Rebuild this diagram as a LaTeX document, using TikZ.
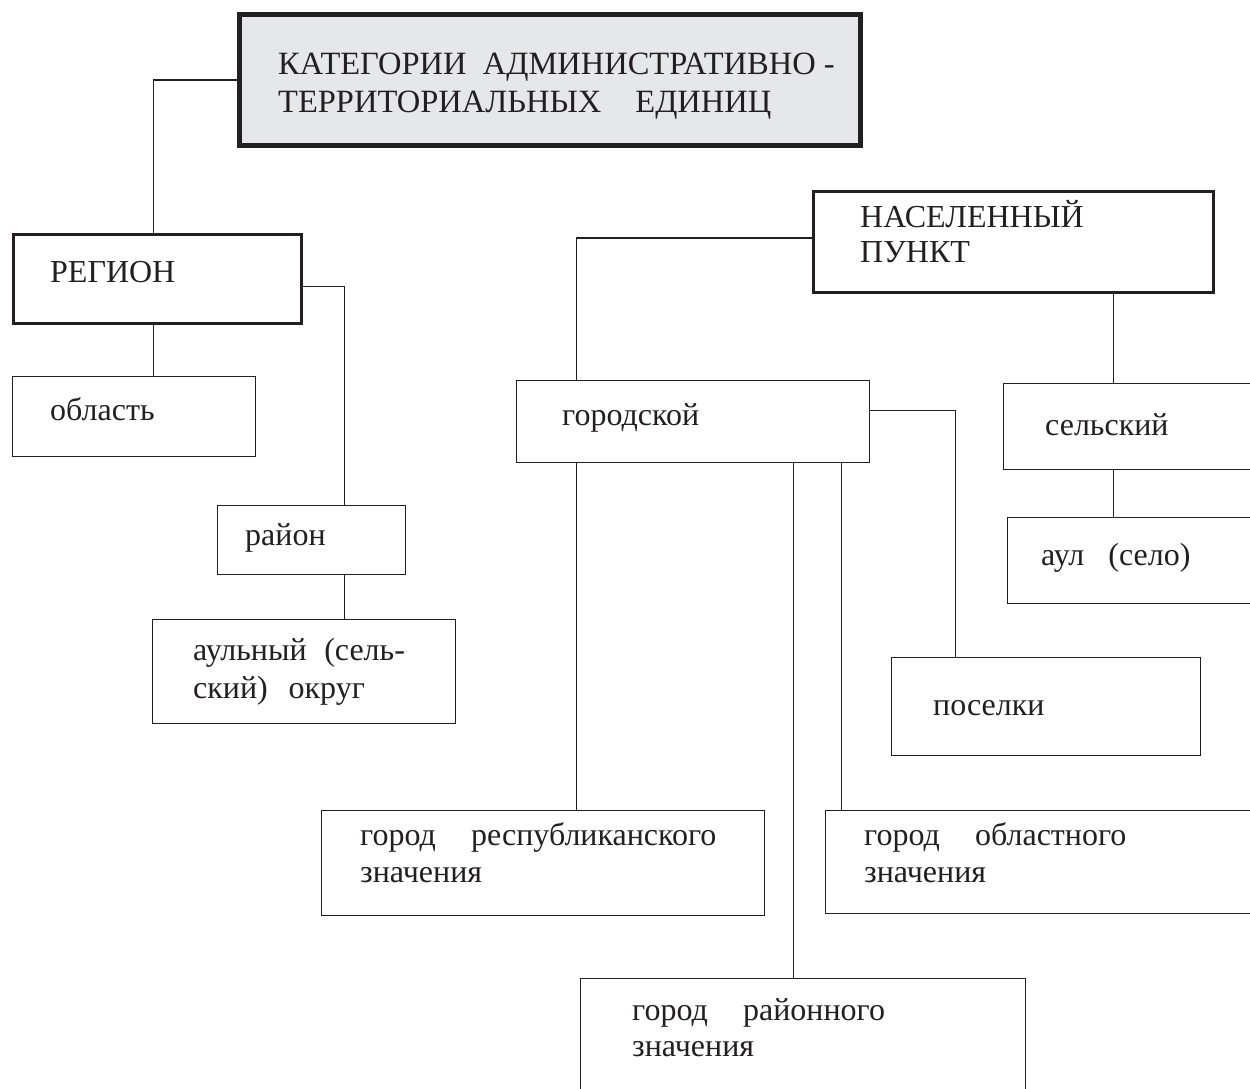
\documentclass[tikz,border=0pt]{standalone}
\usepackage{fontspec}
\setmainfont{Liberation Serif}
\newfontfamily\rufont{Liberation Serif}
\usetikzlibrary{calc}
\definecolor{ink}{HTML}{231F20}
\definecolor{boxfill}{HTML}{E6E7E8}
\begin{document}
\begin{tikzpicture}[x=1pt,y=-1pt,
  box/.style={draw=ink, line width=1.4pt, rectangle, anchor=north west, inner sep=0pt, fill=white},
  medbox/.style={box, line width=3pt},
  headbox/.style={box, line width=5pt, fill=boxfill},
  txt/.style={anchor=base west, inner sep=0pt, text=ink, align=left, font=\rufont\fontsize{32}{37}\selectfont},
  headtxt/.style={txt, font=\rufont\fontsize{32.5}{37}\selectfont},
  conn/.style={draw=ink, line width=1.4pt}]
\useasboundingbox (0,0) rectangle (1250,1088);
\clip (0,0) rectangle (1250,1088);
% boxes
\node[headbox, minimum width=621pt, minimum height=131pt] (top) at (237,12) {};
\node[medbox, minimum width=288pt, minimum height=89pt] (region) at (12,233) {};
\node[box, minimum width=243pt, minimum height=80pt] (oblast) at (12,376) {};
\node[box, minimum width=188pt, minimum height=69pt] (rayon) at (217,505) {};
\node[box, minimum width=303pt, minimum height=104pt] (okrug) at (152,619) {};
\node[medbox, minimum width=400pt, minimum height=101pt] (np) at (812,190) {};
\node[box, minimum width=353pt, minimum height=82pt] (gor) at (516,380) {};
\node[box, minimum width=300pt, minimum height=86pt] (sel) at (1003,383) {};
\node[box, minimum width=300pt, minimum height=86pt] (aul) at (1007,517) {};
\node[box, minimum width=309pt, minimum height=98pt] (pos) at (891,657) {};
\node[box, minimum width=443pt, minimum height=105pt] (resp) at (321,810) {};
\node[box, minimum width=445pt, minimum height=130pt] (rayg) at (580,978) {};
\node[box, minimum width=450pt, minimum height=103pt] (obl) at (825,810) {};
% texts
\node[headtxt] (ttop1) at ($(top.north west)+(41,62)$) {КАТЕГОРИИ\hspace{0.5em}АДМИНИСТРАТИВНО -};
\node[headtxt] (ttop2) at ($(top.north west)+(41,100)$) {ТЕРРИТОРИАЛЬНЫХ\hspace{1.05em}ЕДИНИЦ};
\node[txt] (tregion) at ($(region.north west)+(38,49)$) {РЕГИОН};
\node[txt] (toblast) at ($(oblast.north west)+(38,44)$) {область};
\node[txt] (trayon) at ($(rayon.north west)+(28,40)$) {район};
\node[txt] (tokrug1) at ($(okrug.north west)+(41,41)$) {аульный\hspace{0.3em} (сель-};
\node[txt] (tokrug2) at ($(okrug.north west)+(41,79)$) {ский)\hspace{0.4em} округ};
\node[txt] (tnp1) at ($(np.north west)+(48,37)$) {НАСЕЛЕННЫЙ};
\node[txt] (tnp2) at ($(np.north west)+(48,72)$) {ПУНКТ};
\node[txt] (tgor) at ($(gor.north west)+(46,45)$) {городской};
\node[txt] (tsel) at ($(sel.north west)+(42,52)$) {сельский};
\node[txt] (taul) at ($(aul.north west)+(34,48)$) {аул\hspace{0.5em} (село)};
\node[txt] (tpos) at ($(pos.north west)+(42,58)$) {поселки};
\node[txt] (tresp1) at ($(resp.north west)+(39,35)$) {город\hspace{0.85em} республиканского};
\node[txt] (tresp2) at ($(resp.north west)+(39,72)$) {значения};
\node[txt] (trayg1) at ($(rayg.north west)+(52,42)$) {город\hspace{0.85em} районного};
\node[txt] (trayg2) at ($(rayg.north west)+(52,78)$) {значения};
\node[txt] (tobl1) at ($(obl.north west)+(39,35)$) {город\hspace{0.85em} областного};
\node[txt] (tobl2) at ($(obl.north west)+(39,72)$) {значения};
% connectors
\draw[conn] (top.west) -| ([xshift=-4pt]region.north);
\draw[conn] ([xshift=-4pt]region.south) -- ([xshift=-4pt]region.south |- oblast.north);
\draw[conn] ([yshift=-7.5pt]region.east) -| ([xshift=33pt]rayon.north);
\draw[conn] ([xshift=33pt]rayon.south) -- ([xshift=33pt]rayon.south |- okrug.north);
\draw[conn] ([yshift=4pt]np.west) -| ([xshift=-116.5pt]gor.north);
\draw[conn] ([xshift=100pt]np.south) -- ([xshift=100pt]np.south |- sel.north);
\draw[conn] ([xshift=100pt]np.south |- sel.south) -- ([xshift=100pt]np.south |- aul.north);
\draw[conn] ([yshift=11pt]gor.east) -| ([xshift=-90.5pt]pos.north);
\draw[conn] ([xshift=-116.5pt]gor.south) -- ([xshift=-116.5pt]gor.south |- resp.north);
\draw[conn] ([xshift=100.5pt]gor.south) -- ([xshift=100.5pt]gor.south |- rayg.north);
\draw[conn] ([xshift=148.5pt]gor.south) -- ([xshift=148.5pt]gor.south |- obl.north);
\end{tikzpicture}
\end{document}
